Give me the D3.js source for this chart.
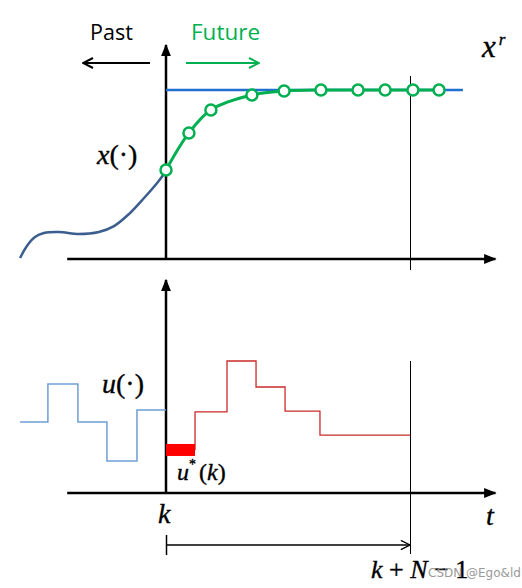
<!DOCTYPE html>
<html>
<head>
<meta charset="utf-8">
<script src="https://cdn.jsdelivr.net/npm/d3@7"></script>
<style>
  html, body { margin: 0; padding: 0; background: #fff; }
  svg { display: block; }
  .math { font-family: "Liberation Serif", "Times New Roman", serif; stroke: #000; stroke-width: 0.35px; }
</style>
</head>
<body>
<div id="chart"></div>
<script>
// ---------- data (time in steps, k = 0; k+N-1 = 10) ----------
const pastStateT = [-5.98, -5.7, -5.37, -5.0, -4.39, -3.57, -2.75, -2.13, -1.52, -0.9, -0.33, 0];
const pastStateV = [0.006, 0.077, 0.13, 0.154, 0.160, 0.148, 0.160, 0.195, 0.266, 0.361, 0.456, 0.521];

const predT = [0, 0.94, 1.84, 3.52, 4.84, 6.35, 7.87, 8.98, 10.12, 11.19];
const predV = [0.527, 0.746, 0.882, 0.970, 0.994, 1.0, 1.0, 1.0, 1.0, 1.0];

const refRange = [0, 12.17];
const refValue = 1.0;

const pastInputT = [-5.98, -4.84, -3.61, -2.42, -1.19, 0];
const pastInputV = [0.538, 0.826, 0.538, 0.242, 0.629];

const firstInputT = [0, 1.19];
const firstInputV = 0.326;

const futInputT = [1.19, 2.5, 3.69, 4.88, 6.31, 10];
const futInputV = [0.614, 1.0, 0.803, 0.621, 0.439];

const horizonT = 10;

// ---------- layout ----------
const W = 522, H = 588;
const svg = d3.select("#chart").append("svg").attr("width", W).attr("height", H);

const x = d3.scaleLinear().domain([0, 10]).range([166, 410]);
const yTop = d3.scaleLinear().domain([0, 1]).range([259, 90]);
const yBot = d3.scaleLinear().domain([0, 1]).range([493, 361]);

const axisT0 = -4.05, axisT1 = 13.5;

// arrow markers
const defs = svg.append("defs");
defs.append("marker").attr("id", "tri").attr("viewBox", "0 0 10 10")
  .attr("refX", 9).attr("refY", 5).attr("markerWidth", 5).attr("markerHeight", 5)
  .attr("markerUnits", "strokeWidth").attr("orient", "auto")
  .append("path").attr("d", "M0,1 L10,5 L0,9 z").attr("fill", "#000");
function chevron(id, color) {
  defs.append("marker").attr("id", id).attr("viewBox", "0 0 12 12")
    .attr("refX", 11).attr("refY", 6).attr("markerWidth", 12).attr("markerHeight", 12)
    .attr("markerUnits", "userSpaceOnUse").attr("orient", "auto")
    .append("path").attr("d", "M1,1 L11,6 L1,11").attr("fill", "none")
    .attr("stroke", color).attr("stroke-width", 2);
}
chevron("chevK", "#000");
chevron("chevG", "#00B050");
defs.append("marker").attr("id", "chevThin").attr("viewBox", "0 0 12 12")
  .attr("refX", 11).attr("refY", 6).attr("markerWidth", 11).attr("markerHeight", 11)
  .attr("markerUnits", "userSpaceOnUse").attr("orient", "auto")
  .append("path").attr("d", "M1,1 L11,6 L1,11").attr("fill", "none")
  .attr("stroke", "#000").attr("stroke-width", 1.5);

// ---------- top panel ----------
const gT = svg.append("g");
gT.append("line").attr("x1", x(horizonT) + 0.5).attr("x2", x(horizonT) + 0.5)
  .attr("y1", yTop(1.083)).attr("y2", yTop(-0.065)).attr("stroke", "#000").attr("stroke-width", 1);
gT.append("line").attr("x1", x(axisT0)).attr("x2", x(axisT1)).attr("y1", yTop(0)).attr("y2", yTop(0))
  .attr("stroke", "#000").attr("stroke-width", 2.5).attr("marker-end", "url(#tri)");
gT.append("line").attr("x1", x(0)).attr("x2", x(0)).attr("y1", yTop(0)).attr("y2", yTop(1.266))
  .attr("stroke", "#000").attr("stroke-width", 2.5).attr("marker-end", "url(#tri)");
gT.append("line").attr("x1", x(refRange[0])).attr("x2", x(refRange[1]))
  .attr("y1", yTop(refValue)).attr("y2", yTop(refValue)).attr("stroke", "#1F70CF").attr("stroke-width", 2.5);
const lineTop = d3.line().x(d => x(d[0])).y(d => yTop(d[1])).curve(d3.curveCatmullRom.alpha(0.5));
gT.append("path").datum(d3.zip(pastStateT, pastStateV)).attr("d", lineTop)
  .attr("fill", "none").attr("stroke", "#3B5E8E").attr("stroke-width", 2.5);
gT.append("path").datum(d3.zip(predT, predV)).attr("d", lineTop)
  .attr("fill", "none").attr("stroke", "#00B050").attr("stroke-width", 3);
gT.selectAll("circle.p").data(d3.zip(predT, predV)).join("circle")
  .attr("cx", d => x(d[0])).attr("cy", d => yTop(d[1])).attr("r", 5.5)
  .attr("fill", "#fff").attr("stroke", "#00B050").attr("stroke-width", 2.5);

// Past / Future
svg.append("text").attr("x", 90).attr("y", 40).text("Past")
  .attr("font-family", "Open Sans, sans-serif").attr("font-size", 21.5).attr("fill", "#000");
svg.append("text").attr("x", 191).attr("y", 40).text("Future")
  .attr("font-family", "Open Sans, sans-serif").attr("font-size", 22.5).attr("fill", "#00B050");
svg.append("line").attr("x1", 150).attr("x2", 83).attr("y1", 63).attr("y2", 63)
  .attr("stroke", "#000").attr("stroke-width", 2).attr("marker-end", "url(#chevK)");
svg.append("line").attr("x1", 186).attr("x2", 259).attr("y1", 63).attr("y2", 63)
  .attr("stroke", "#00B050").attr("stroke-width", 2).attr("marker-end", "url(#chevG)");

// math labels
const xr = svg.append("text").attr("class", "math").attr("x", 482).attr("y", 57).attr("font-size", 31);
xr.append("tspan").attr("font-style", "italic").text("x");
xr.append("tspan").attr("font-style", "italic").attr("font-size", 17).attr("dx", 3).attr("dy", -12).text("r");

const xl = svg.append("text").attr("class", "math").attr("x", 97).attr("y", 164).attr("font-size", 28);
xl.append("tspan").attr("font-style", "italic").text("x");
xl.append("tspan").text("(·)");

// ---------- bottom panel ----------
const gB = svg.append("g");
gB.append("line").attr("x1", x(horizonT) + 0.5).attr("x2", x(horizonT) + 0.5)
  .attr("y1", yBot(1)).attr("y2", yBot(-0.462)).attr("stroke", "#000").attr("stroke-width", 1);
gB.append("line").attr("x1", x(axisT0)).attr("x2", x(axisT1)).attr("y1", yBot(0)).attr("y2", yBot(0))
  .attr("stroke", "#000").attr("stroke-width", 2.5).attr("marker-end", "url(#tri)");
gB.append("line").attr("x1", x(0)).attr("x2", x(0)).attr("y1", yBot(0)).attr("y2", yBot(1.614))
  .attr("stroke", "#000").attr("stroke-width", 2.5).attr("marker-end", "url(#tri)");

function stepPoints(ts, vs) {
  const pts = [];
  vs.forEach((v, i) => { pts.push([ts[i], v]); pts.push([ts[i + 1], v]); });
  return pts;
}
const lineBot = d3.line().x(d => x(d[0])).y(d => yBot(d[1]));
gB.append("path").datum(stepPoints(pastInputT, pastInputV)).attr("d", lineBot)
  .attr("fill", "none").attr("stroke", "#6E9ED6").attr("stroke-width", 1.5);
gB.append("path").datum([[futInputT[0], firstInputV]].concat(stepPoints(futInputT, futInputV))).attr("d", lineBot)
  .attr("fill", "none").attr("stroke", "#CC2A2A").attr("stroke-width", 1.3);
gB.append("rect").attr("x", x(firstInputT[0])).attr("width", x(firstInputT[1]) - x(firstInputT[0]))
  .attr("y", yBot(firstInputV) - 6).attr("height", 12).attr("fill", "#FF0000");

const ul = svg.append("text").attr("class", "math").attr("x", 102).attr("y", 393).attr("font-size", 28);
ul.append("tspan").attr("font-style", "italic").text("u");
ul.append("tspan").text("(·)");

const us = svg.append("text").attr("class", "math").attr("x", 177).attr("y", 480).attr("font-size", 24);
us.append("tspan").attr("font-style", "italic").text("u");
us.append("tspan").attr("font-size", 14).attr("dy", -11).text("*");
us.append("tspan").attr("dy", 11).attr("dx", 3).text("(");
us.append("tspan").attr("font-style", "italic").text("k");
us.append("tspan").text(")");

svg.append("text").attr("class", "math").attr("x", 158).attr("y", 523).attr("font-size", 28)
  .attr("font-style", "italic").text("k");
svg.append("text").attr("class", "math").attr("x", 486).attr("y", 525).attr("font-size", 28)
  .attr("font-style", "italic").text("t");

// horizon arrow
svg.append("line").attr("x1", x(0) + 0.5).attr("x2", x(0) + 0.5).attr("y1", yBot(-0.318)).attr("y2", yBot(-0.47))
  .attr("stroke", "#000").attr("stroke-width", 1.5);
svg.append("line").attr("x1", x(0)).attr("x2", x(horizonT)).attr("y1", yBot(-0.394)).attr("y2", yBot(-0.394))
  .attr("stroke", "#000").attr("stroke-width", 1.5).attr("marker-end", "url(#chevThin)");

const kn = svg.append("text").attr("class", "math").attr("x", 371).attr("y", 578).attr("font-size", 26);
kn.append("tspan").attr("font-style", "italic").text("k");
kn.append("tspan").text(" + ");
kn.append("tspan").attr("font-style", "italic").text("N");
kn.append("tspan").text(" − 1");

svg.append("text").attr("x", 428).attr("y", 577).text("CSDN @Ego&ld")
  .attr("font-family", "DejaVu Sans, sans-serif").attr("font-size", 12).attr("fill", "#9a9a9a");
</script>
</body>
</html>
